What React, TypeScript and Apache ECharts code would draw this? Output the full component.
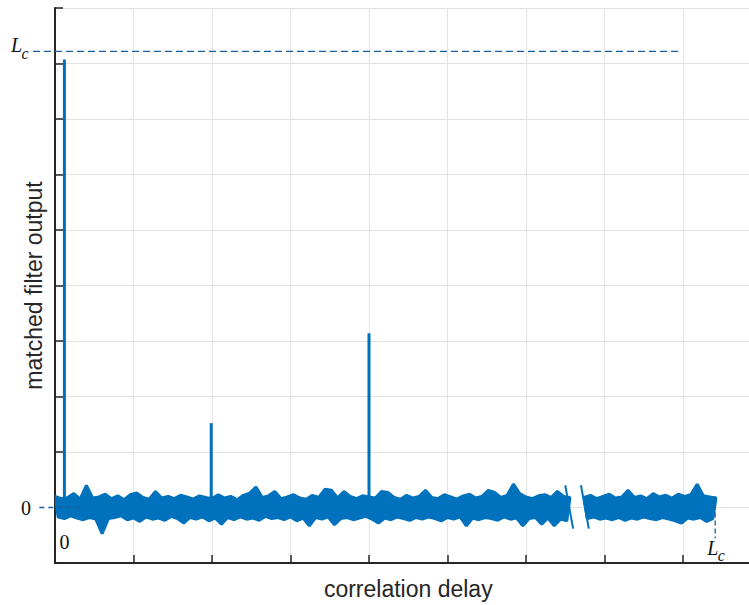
import React, { useEffect, useRef } from "react";
import * as echarts from "echarts";

// ---- data (x: delay units, 100 per grid column; y: output, 100 per grid row) ----
const X_MAX = 900;
const Y_MIN = -100;
const Y_MAX = 900;
const SAMPLE_STEP = 4;
const segAStart = 0;
const segBStart = 674;

// noise trace before the axis break (alternating local maxima / minima)
const noiseA = [
  20, -17, 16, -20, 18, -15, 25, -19, 15, -22,
  40, -18, 17, -21, 19, -47, 24, -20, 16, -18,
  21, -15, 14, -22, 23, -19, 26, -25, 18, -17,
  15, -21, 29, -19, 17, -23, 20, -16, 16, -20,
  22, -28, 19, -18, 15, -21, 21, -17, 18, -24,
  16, -19, 23, -30, 17, -18, 20, -22, 14, -17,
  22, -21, 26, -19, 37, -23, 18, -16, 21, -20,
  29, -18, 16, -22, 19, -17, 23, -24, 17, -19,
  15, -33, 22, -18, 18, -21, 33, -17, 31, -31,
  17, -20, 29, -18, 20, -22, 16, -19, 21, -16,
  19, -21, 17, -28, 29, -19, 27, -22, 18, -17,
  15, -20, 22, -23, 17, -18, 20, -21, 31, -17,
  18, -20, 16, -24, 23, -18, 19, -21, 15, -17,
  21, -33, 24, -19, 17, -22, 20, -18, 31, -20,
  27, -23, 18, -17, 22, -21, 42, -19, 25, -33,
  19, -20, 16, -18, 21, -30, 23, -19, 18, -33,
  29, -21, 20, -24, 18,
];

// noise trace after the axis break
const noiseB = [
  18, -20, 22, -17, 16, -21, 20, -19, 24, -22,
  17, -18, 19, -23, 31, -19, 18, -21, 21, -17,
  16, -20, 25, -22, 19, -18, 22, -21, 17, -24,
  24, -28, 20, -19, 23, -21, 42, -18, 21, -25,
  19, -20, 17,
];

const peakDelays = [12, 199, 400];
const peakHeights = [807, 152, 314];

const lcLevel = 822;
const lcDelay = 841;
const lcLineStart = -28;
const lcLineEnd = 797;
const zeroLineStart = -20;
const zeroLineEnd = 34;
const lcMarkerTop = 20;
const lcMarkerBottom = -56;

const breakMarks = [
  [[650, 40], [660, -38]],
  [[670, 40], [680, -38]],
];

const xTitle = "correlation delay";
const yTitle = "matched filter output";

const BLUE = "#0072BD";
const DASH = "#1a5f9f";
const INK = "#262626";

const segments = [
  { start: segAStart, values: noiseA },
  { start: segBStart, values: noiseB },
];

export default function App() {
  const ref = useRef<HTMLDivElement>(null);

  useEffect(() => {
    if (!ref.current) return;
    const chart = echarts.init(ref.current, undefined, { renderer: "svg" });

    const lineSeries = (data: number[][], color: string, width: number, z: number) => ({
      type: "line",
      data,
      showSymbol: false,
      symbol: "none",
      silent: true,
      animation: false,
      z,
      emphasis: { disabled: true },
      lineStyle: { color, width, join: "bevel" },
    });

    const bandSeries = {
      type: "custom",
      silent: true,
      animation: false,
      clip: true,
      z: 2,
      data: segments.map((s, k) => [k, s.start]),
      renderItem: (params: any, api: any) => {
        const seg = segments[api.value(0)];
        const tops: number[][] = [];
        const bottoms: number[][] = [];
        seg.values.forEach((v, i) => {
          const p = api.coord([seg.start + i * SAMPLE_STEP, v]);
          if (i % 2 === 0) tops.push(p);
          else bottoms.push(p);
        });
        const points = tops.concat(bottoms.reverse());
        return {
          type: "polygon",
          shape: { points },
          style: { fill: BLUE, stroke: BLUE, lineWidth: 3, lineJoin: "bevel" },
        };
      },
    };

    const series: any[] = [
      bandSeries,
      ...peakDelays.map((d, i) => lineSeries([[d, 0], [d, peakHeights[i]]], BLUE, 3, 3)),
      ...breakMarks.map((m) => lineSeries(m, BLUE, 2, 3)),
    ];

    const axisCommon = {
      type: "value",
      axisLine: { show: true, onZero: false, lineStyle: { color: INK, width: 2 } },
      axisTick: { show: true, inside: true, length: 8, lineStyle: { color: INK, width: 1.5 } },
      axisLabel: { show: false },
      splitLine: { show: true, lineStyle: { color: "#e3e3e3", width: 1 } },
      nameLocation: "middle",
      nameTextStyle: { fontSize: 23, color: INK, fontFamily: "Liberation Sans" },
    };

    chart.setOption({
      animation: false,
      grid: { left: 55, top: 8, right: 8.5, bottom: 37.6, containLabel: false },
      xAxis: { ...axisCommon, min: 0, max: X_MAX, interval: 100, name: xTitle, nameGap: 14 },
      yAxis: { ...axisCommon, min: Y_MIN, max: Y_MAX, interval: 100, name: yTitle, nameGap: 10, nameRotate: 90 },
      series,
    });

    const px = (x: number, y: number) => chart.convertToPixel({ gridIndex: 0 }, [x, y]) as number[];
    const serif = "Liberation Serif";
    const lcLabel = (ax: number, ay: number) => ({
      type: "group",
      x: ax,
      y: ay,
      silent: true,
      z: 10,
      children: [
        { type: "text", x: 0, y: 0, style: { text: "L", fontSize: 20, fontStyle: "italic", fontFamily: serif, fill: "#111", align: "left", verticalAlign: "bottom" } },
        { type: "text", x: 10.5, y: 6, style: { text: "c", fontSize: 16, fontStyle: "italic", fontFamily: serif, fill: "#111", align: "left", verticalAlign: "bottom" } },
      ],
    });
    const dashLine = (a: number[], b: number[], dash: number[]) => ({
      type: "line",
      silent: true,
      z: 10,
      shape: { x1: a[0], y1: a[1], x2: b[0], y2: b[1] },
      style: { stroke: DASH, lineWidth: 1.3, lineDash: dash },
    });

    const p0y = px(0, 0);
    const pLc = px(0, lcLevel);
    const pZeroX = px(peakDelays[0], 0);
    const pLcX = px(lcDelay, 0);

    chart.setOption({
      graphic: [
        dashLine(px(lcLineStart, lcLevel), px(lcLineEnd, lcLevel), [7, 4]),
        dashLine(px(zeroLineStart, 0), px(zeroLineEnd, 0), [5, 4]),
        dashLine(px(lcDelay, lcMarkerTop), px(lcDelay, lcMarkerBottom), [5, 3]),
        { type: "text", x: p0y[0] - 24, y: p0y[1], silent: true, z: 10, style: { text: "0", fontSize: 20, fontFamily: serif, fill: "#111", align: "right", verticalAlign: "middle" } },
        lcLabel(pLc[0] - 44, pLc[1] + 4),
        { type: "text", x: pZeroX[0], y: pZeroX[1] + 34, silent: true, z: 10, style: { text: "0", fontSize: 20, fontFamily: serif, fill: "#111", align: "center", verticalAlign: "middle" } },
        lcLabel(pLcX[0] - 8, pLcX[1] + 50),
      ],
    });

    return () => chart.dispose();
  }, []);

  return (
    <div style={{ position: "absolute", left: 0, top: 0, width: 749, height: 605, overflow: "hidden" }}>
      <div ref={ref} style={{ position: "absolute", left: 0, top: 0, width: 770, height: 605 }} />
    </div>
  );
}
